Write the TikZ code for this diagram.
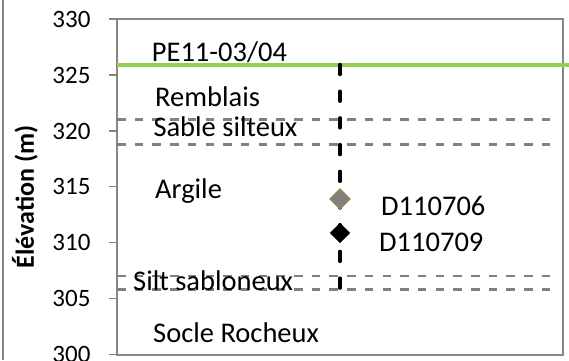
\documentclass[tikz,border=0pt]{standalone}
\usepackage{fontspec}
\setmainfont{Carlito}
\usetikzlibrary{shapes.geometric}
\definecolor{axisgray}{HTML}{868686}
\definecolor{layergray}{HTML}{808080}
\definecolor{groundgreen}{HTML}{92D050}
\definecolor{olivebrd}{HTML}{948A54}
\begin{document}
\begin{tikzpicture}[x=1pt,y=-1pt,
  frameline/.style={draw=axisgray,line width=1.6pt},
  layerline/.style={draw=layergray,line width=2.6pt,dash pattern=on 8.5pt off 9.2pt},
  boreline/.style={draw=black,line width=3.4pt,line cap=round,dash pattern=on 10pt off 16.7pt},
  ticklbl/.style={anchor=base east,inner sep=0pt,font=\fontsize{25}{28}\selectfont},
  layerlbl/.style={anchor=base west,inner sep=0pt,font=\fontsize{28.5}{32}\selectfont},
  marker/.style={diamond,minimum width=20.5pt,minimum height=20.5pt,inner sep=0pt}]
\useasboundingbox (0,0) rectangle (569,360);
\clip (0,0) rectangle (569,360);
% outer chart border (left)
\draw[frameline] (3,0) -- (3,360);
% plot area
\coordinate (pTL) at (117,19);
\coordinate (pBR) at (563,354.7);
\draw[frameline] (pTL) rectangle (pBR);
% ticks and tick labels
\foreach \v/\yy in {330/19,325/74.9,320/130.8,315/186.6,310/242.5,305/298.4,300/354.3}{
  \draw[frameline] (108.5,\yy) -- (117,\yy);
  \node[ticklbl] (t\v) at (90.7,\yy+8.3) {\v};
}
% axis title
\node[rotate=90,inner sep=0pt,font=\bfseries\fontsize{26}{30}\selectfont] (ytitle) at (25,197) {Élévation (m)};
% layer boundaries
\coordinate (a1) at (117,119.2); \coordinate (b1) at (557,119.2);
\coordinate (a2) at (117,144.7); \coordinate (b2) at (557,144.7);
\coordinate (a3) at (117,276);   \coordinate (b3) at (557,276);
\coordinate (a4) at (117,289.3); \coordinate (b4) at (557,289.3);
\draw[layerline] (a1) -- (b1);
\draw[layerline] (a2) -- (b2);
\draw[layerline] (a3) -- (b3);
\draw[layerline] (a4) -- (b4);
% ground surface
\coordinate (g1) at (117,65); \coordinate (g2) at (569,65);
\draw[draw=groundgreen,line width=3.8pt] (g1) -- (g2);
% borehole
\coordinate (bh1) at (340,64.5); \coordinate (bh2) at (340,289.5);
\draw[boreline] (bh1) -- (bh2);
% samples
\node[marker,fill=layergray,draw=olivebrd,line width=1.3pt] (s1) at (340,199) {};
\node[marker,fill=black] (s2) at (340,233) {};
\node[layerlbl] (l1) at (381,215) {D110706};
\node[layerlbl] (l2) at (379,251.7) {D110709};
% layer labels
\node[layerlbl] (n1) at (151.7,61) {PE11-03/04};
\node[layerlbl] (n2) at (155,106.7) {Remblais};
\node[layerlbl] (n3) at (153.3,136.7) {Sable silteux};
\node[layerlbl] (n4) at (155,198.3) {Argile};
\node[layerlbl] (n5) at (133,290) {Silt sabloneux};
\node[layerlbl] (n6) at (153,342.7) {Socle Rocheux};
\end{tikzpicture}
\end{document}
